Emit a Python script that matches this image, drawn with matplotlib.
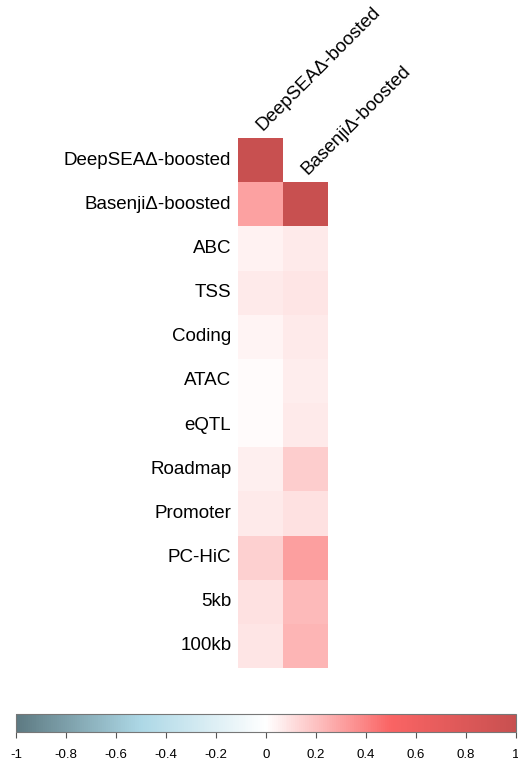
import numpy as np
import matplotlib
matplotlib.use("Agg")
import matplotlib.pyplot as plt
from matplotlib.colors import LinearSegmentedColormap
import matplotlib as mpl

plt.rcParams["font.family"] = ["Liberation Sans", "DejaVu Sans"]

# Data
rows = ["DeepSEAΔ-boosted", "BasenjiΔ-boosted", "ABC", "TSS", "Coding", "ATAC",
        "eQTL", "Roadmap", "Promoter", "PC-HiC", "5kb", "100kb"]
cols = ["DeepSEAΔ-boosted", "BasenjiΔ-boosted"]
deepsea_corr = [1.0, 0.30, 0.04, 0.07, 0.035, 0.015, 0.015, 0.05, 0.07, 0.15, 0.10, 0.085]
basenji_corr = [np.nan, 1.0, 0.07, 0.085, 0.065, 0.055, 0.07, 0.16, 0.10, 0.31, 0.22, 0.24]

mat = np.ma.masked_invalid(np.column_stack([deepsea_corr, basenji_corr]))

cmap = LinearSegmentedColormap.from_list(
    "corr", [(0.0, "#5D7A82"), (0.25, "#ADD8E6"), (0.5, "#FFFFFF"),
             (0.75, "#FA6464"), (1.0, "#C85050")])

W, H = 518, 761
fig = plt.figure(figsize=(W / 100, H / 100), dpi=100)

# heatmap axes
x0, x1, y0, y1 = 238, 328, 138, 668
ax = fig.add_axes([x0 / W, 1 - y1 / H, (x1 - x0) / W, (y1 - y0) / H])
ax.pcolormesh(np.arange(3), np.arange(13), mat, cmap=cmap, vmin=-1, vmax=1,
              edgecolors="none")
ax.set_xlim(0, 2)
ax.set_ylim(12, 0)
ax.axis("off")

for i, r in enumerate(rows):
    ax.text(-0.15, i + 0.5, r, ha="right", va="center", fontsize=13.5)
for j, c in enumerate(cols):
    ax.text(j + 0.62, j - 0.1, c, ha="left", va="bottom", rotation=45,
            rotation_mode="anchor", fontsize=13.5)

# colorbar
cax = fig.add_axes([16 / W, 1 - 732 / H, 500 / W, 18 / H])
norm = mpl.colors.Normalize(vmin=-1, vmax=1)
cb = fig.colorbar(mpl.cm.ScalarMappable(norm=norm, cmap=cmap), cax=cax,
                  orientation="horizontal")
ticks = np.round(np.arange(-1, 1.01, 0.2), 1)
cb.set_ticks(ticks)
cb.set_ticklabels(["-1", "-0.8", "-0.6", "-0.4", "-0.2", "0", "0.2", "0.4",
                   "0.6", "0.8", "1"])
cb.ax.tick_params(labelsize=9.5, length=4, color="#555555", pad=8)
cb.outline.set_edgecolor("#777777")

fig.savefig("out.png", dpi=100)
